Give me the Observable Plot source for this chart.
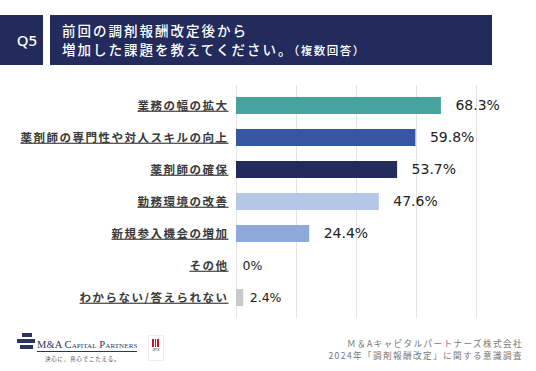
<!DOCTYPE html>
<html><head><meta charset="utf-8">
<script src="https://cdn.jsdelivr.net/npm/d3@7"></script>
<script src="https://cdn.jsdelivr.net/npm/@observablehq/plot@0.6"></script>
<style>
html,body{margin:0;padding:0;background:#fff;}
#root{position:relative;width:536px;height:371px;overflow:hidden;font-family:"Noto Sans CJK JP","Noto Sans",sans-serif;}
.qbox{position:absolute;left:0;top:15px;width:43px;height:50px;background:#222b5b;color:#fff;font-family:"Noto Sans","DejaVu Sans",sans-serif;font-size:15px;font-weight:500;line-height:50px;text-align:right;box-sizing:border-box;padding-right:6px;}
.tbox{position:absolute;left:50px;top:15px;width:442px;height:50px;background:#222b5b;color:#fff;font-size:13.5px;font-weight:500;letter-spacing:2px;line-height:19px;box-sizing:border-box;padding:6px 0 0 12px;}
.tbox small{font-size:11.5px;letter-spacing:1.5px;}
#chart{position:absolute;left:0;top:80px;}
.foot{position:absolute;right:13px;text-align:right;color:#777;font-size:8.6px;letter-spacing:1.4px;line-height:9px;white-space:nowrap;}
.logo{position:absolute;left:17px;top:333px;}
.bar{position:absolute;background:#2a3463;height:3.5px;}
.lname{position:absolute;left:20px;top:6px;font-family:"Liberation Serif",serif;font-size:10.5px;color:#2a3463;white-space:nowrap;font-variant:small-caps;letter-spacing:0.1px;border-bottom:1px solid #2a3463;padding-bottom:1px;}
.tag{position:absolute;left:28px;top:22px;font-size:5.5px;color:#444;white-space:nowrap;letter-spacing:0.8px;}
.jpx{position:absolute;left:148px;top:335px;width:14px;height:24px;border:1px solid #eee;}
</style></head>
<body><div id="root">
<div class="qbox">Q5</div>
<div class="tbox">前回の調剤報酬改定後から<br>増加した課題を教えてください。<small>（複数回答）</small></div>
<div id="chart"></div>
<div class="logo">
  <div class="bar" style="left:5px;top:0px;width:10px;"></div>
  <div class="bar" style="left:0px;top:6px;width:18px;"></div>
  <div class="bar" style="left:3px;top:12px;width:13px;"></div>
  <div class="lname">M&amp;A Capital Partners</div>
  <div class="tag">決心に、真心でこたえる。</div>
</div>
<div class="jpx"><div style="margin:3px auto 0;width:8px;height:8px;background:repeating-linear-gradient(90deg,#c8102e 0 1.5px,#fff 1.5px 2.6px);"></div><div style="font-size:4px;text-align:center;color:#333;font-family:sans-serif;">JPX</div></div>
<div class="foot" style="top:339px;">Ｍ＆Aキャピタルパートナーズ株式会社</div>
<div class="foot" style="top:351px;">2024年「調剤報酬改定」に関する意識調査</div>
</div>
<script>
const categories = ["業務の幅の拡大","薬剤師の専門性や対人スキルの向上","薬剤師の確保","勤務環境の改善","新規参入機会の増加","その他","わからない/答えられない"];
const values = [68.3, 59.8, 53.7, 47.6, 24.4, 0, 2.4];
const colors = ["#46a39e","#3557a1","#222b5b","#b4c7e7","#8eaadb","#ffffff","#c9c9c9"];
const gridTicks = [0, 20, 40, 60, 80];

const data = categories.map((c, i) => ({cat: c, v: values[i], col: colors[i]}));
const fmt = v => (v === 0 ? "0" : v.toFixed(1)) + "%";

const chart = Plot.plot({
  width: 536,
  height: 240,
  marginTop: 5,
  marginBottom: 2,
  marginLeft: 236,
  marginRight: 0,
  x: {domain: [0, 100], axis: null},
  y: {domain: categories, paddingInner: 0.47, paddingOuter: 0.28, label: null},
  marks: [
    Plot.ruleX(gridTicks, {stroke: "#e2e2e2", strokeWidth: 1, strokeOpacity: 1}),
    Plot.barX(data, {x: "v", y: "cat", fill: "col"}),
    Plot.axisY({tickSize: 0, tickPadding: 8, fontSize: 11.5, label: null}),
    Plot.text(data.filter(d => d.v >= 5), {x: "v", y: "cat", text: d => fmt(d.v), dx: 14, textAnchor: "start", fontSize: 14, fill: "#222", fontFamily: "DejaVu Sans"}),
    Plot.text(data.filter(d => d.v < 5), {x: "v", y: "cat", text: d => fmt(d.v), dx: 6, textAnchor: "start", fontSize: 12.5, fill: "#222", fontFamily: "DejaVu Sans"})
  ]
});
d3.select(chart).selectAll('g[aria-label="y-axis tick label"] text')
  .style("text-decoration", "underline")
  .style("font-family", '"Noto Sans CJK JP", sans-serif')
  .style("font-weight", "700")
  .style("letter-spacing", "1.5px")
  .attr("fill", "#3a3a3a");
document.getElementById("chart").appendChild(chart);
</script>
</body></html>
